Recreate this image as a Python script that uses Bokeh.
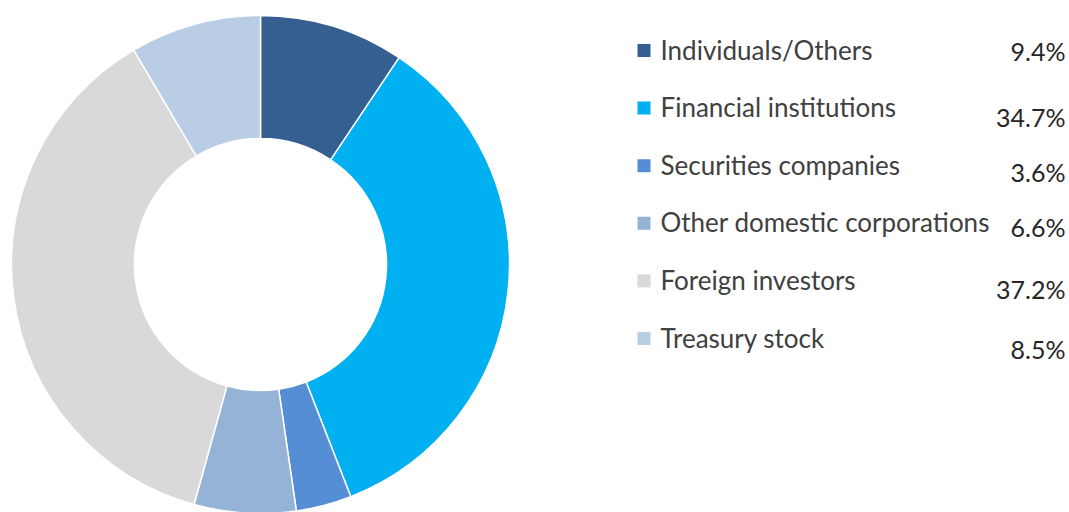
import numpy as np
from bokeh.plotting import figure
from bokeh.models import Range1d, ColumnDataSource
from bokeh.core.properties import value
from bokeh.embed import file_html
from bokeh.resources import INLINE

# ---- data ----
categories = ["Individuals/Others", "Financial institutions", "Securities companies",
              "Other domestic corporations", "Foreign investors", "Treasury stock"]
shares = [9.4, 34.7, 3.6, 6.6, 37.2, 8.5]
labels = ["9.4%", "34.7%", "3.6%", "6.6%", "37.2%", "8.5%"]
colors = ["#365F91", "#00B0F0", "#558ED5", "#95B3D7", "#D9D9D9", "#B9CDE5"]

# ---- layout ----
W, H = 1069, 512
p = figure(width=W, height=H, output_backend="svg", toolbar_location=None,
           x_range=Range1d(0, W), y_range=Range1d(0, H), min_border=0,
           outline_line_color=None, background_fill_color="white")
p.axis.visible = False
p.grid.visible = False

frac = np.array(shares) / np.sum(shares)
cum = np.concatenate([[0], np.cumsum(frac)])
start = np.pi / 2 - 2 * np.pi * cum[:-1]
end = np.pi / 2 - 2 * np.pi * cum[1:]

src = ColumnDataSource(dict(start=start, end=end, color=colors, cat=categories))
p.annular_wedge(x=260, y=H - 264, inner_radius=126, outer_radius=249,
                inner_radius_units="screen", outer_radius_units="screen",
                start_angle="start", end_angle="end", direction="clock",
                fill_color="color", line_color="white", line_width=1.5, source=src)

n = len(categories)
row_y = H - (50 + np.arange(n) * 57.6)
val_off = np.array([0, -9, -6, -4, -8, -10])  # layout tweak for value labels
leg = ColumnDataSource(dict(y=row_y, ty=row_y + 1, vy=row_y + val_off, color=colors,
                            cat=categories, lab=labels))
p.scatter(x=643.5, y="y", marker="square", size=13, fill_color="color",
          line_color=None, source=leg)
p.text(x=660, y="ty", text="cat", source=leg, text_font=value("Lato"),
       text_font_size="26px", text_color="#404040", text_baseline="middle",
       text_align="left")
p.text(x=1065, y="vy", text="lab", source=leg, text_font=value("Lato"),
       text_font_size="25px", text_color="#262626", text_baseline="middle",
       text_align="right")

open("out.html", "w").write(file_html(p, INLINE))
